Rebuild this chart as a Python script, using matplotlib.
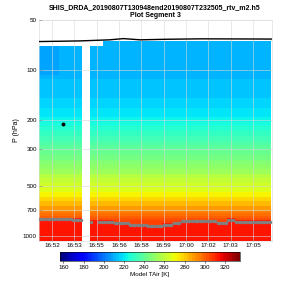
import numpy as np
import matplotlib
matplotlib.use("Agg")
import matplotlib.pyplot as plt

plt.rcParams['font.family'] = ['Liberation Sans', 'DejaVu Sans']

# profile times (minutes after 16:00), 10 s apart
times = 51.5 + np.arange(90) / 6.0
step = 1 / 6.0

# pressure cell edges (hPa) and model air temperature in each cell (K)
p_edges = [67, 72, 77, 82, 88, 94, 100, 107, 114, 122, 130, 139, 148, 158, 169,
           180, 192, 205, 219, 234, 250, 267, 285, 304, 325, 347, 370, 395, 421,
           449, 479, 511, 545, 581, 620, 661, 705, 730, 755, 780, 805, 830, 855,
           880, 910, 960, 1010, 1080]
t_profile = [211, 211, 211, 211, 211, 212, 212, 212, 213, 213, 214, 215, 216, 217,
             218, 220, 222, 224, 227, 230, 233, 236, 239, 241, 244, 247, 250, 253,
             257, 261, 264, 268, 273, 278, 284, 290, 295, 298, 301, 303, 305, 306,
             307, 308, 309, 310, 311]
t_below_surface = 315
t_cold_block = 207

# surface pressure (marker line) for each profile
p_surf = ([790] * 13 + [801] * 4 + [np.nan] * 3 + [820] + [np.nan] * 2 +
          [820] * 6 + [831] * 6 + [862] * 7 + [871] * 6 + [854] * 4 + [834] * 3 +
          [812] * 14 + [831] * 4 + [804] * 3 + [822] * 14)

# aircraft level (black line)
air_t = [51.46, 54.1, 56.0, 56.9, 58.0, 59.6, 61.9, 64.4, 66.5]
air_p = [67.6, 67.0, 66.0, 64.9, 66.0, 65.5, 65.1, 65.2, 65.3]

# single black point
dot_t = [53.0]
dot_p = [211]

tick_pos = [52.3, 53.74, 55.18, 56.62, 58.06, 59.5, 60.94, 62.38, 63.82, 65.26]
tick_lab = ['16:52', '16:53', '16:55', '16:56', '16:58', '16:59', '17:00',
            '17:02', '17:03', '17:05']
p_ticks = [50, 100, 200, 300, 500, 700, 1000]
cb_ticks = [160, 180, 200, 220, 240, 260, 280, 300, 320]

# build the field
pe = np.array(p_edges, float)
ps = np.array(p_surf, float)
ps_fill = np.where(np.isnan(ps), 820, ps)
field = np.tile(np.array(t_profile, float)[:, None], (1, len(times)))
field = np.where(pe[1:, None] > ps_fill[None, :], t_below_surface, field)
cold = (times[None, :] < 52.75) & (pe[1:, None] <= 107)
field[cold] = t_cold_block
mask = np.zeros_like(field, bool)
mask[0, times < 55.6] = True
mask[:, (times > 54.25) & (times < 54.8)] = True
field = np.ma.array(field, mask=mask)

t_edges = np.append(times - step / 2, times[-1] + step / 2)

fig = plt.figure(figsize=(3, 3), dpi=100)
ax = fig.add_axes([0.13, 0.197, 0.777, 0.737])
cmap = plt.get_cmap('jet', 64)
mesh = ax.pcolormesh(t_edges, pe, field, cmap=cmap, vmin=156.7, vmax=334.8)
ax.plot(times, ps, '-o', color='0.5', lw=0.6, ms=1.5, zorder=3)
ax.plot(air_t, air_p, color='k', lw=1.0, zorder=3)
ax.plot(dot_t, dot_p, 'o', color='k', ms=1.8, zorder=3)

ax.set_yscale('log')
ax.set_ylim(1071, 50)
ax.set_xlim(51.45, 66.5)
ax.set_yticks(p_ticks)
ax.set_yticklabels([str(p) for p in p_ticks])
ax.minorticks_off()
ax.set_xticks(tick_pos)
ax.set_xticklabels(tick_lab)
ax.tick_params(labelsize=4.5, direction='in', length=2, width=0.4, color='0.5', pad=1.5)
ax.grid(True, color='0.85', lw=0.4)
ax.set_axisbelow(False)
for s in ax.spines.values():
    s.set_color('0.85')
    s.set_linewidth(0.4)
ax.set_ylabel('P (hPa)', fontsize=5, labelpad=2)

fig.text(0.517, 0.976, 'SHIS_DRDA_20190807T130948end20190807T232505_rtv_m2.h5',
         ha='center', va='center', fontsize=5, fontweight='bold')
fig.text(0.517, 0.949, 'Plot Segment 3', ha='center', va='center', fontsize=5,
         fontweight='bold')

cax = fig.add_axes([0.2, 0.13, 0.6, 0.029])
cb = fig.colorbar(mesh, cax=cax, orientation='horizontal')
cb.set_ticks(cb_ticks)
cb.ax.tick_params(labelsize=4.5, length=1.5, width=0.4, pad=1.5)
cb.outline.set_linewidth(0.4)
cb.set_label('Model TAir [K]', fontsize=4.5, labelpad=1)

fig.savefig('out.png', dpi=100)
